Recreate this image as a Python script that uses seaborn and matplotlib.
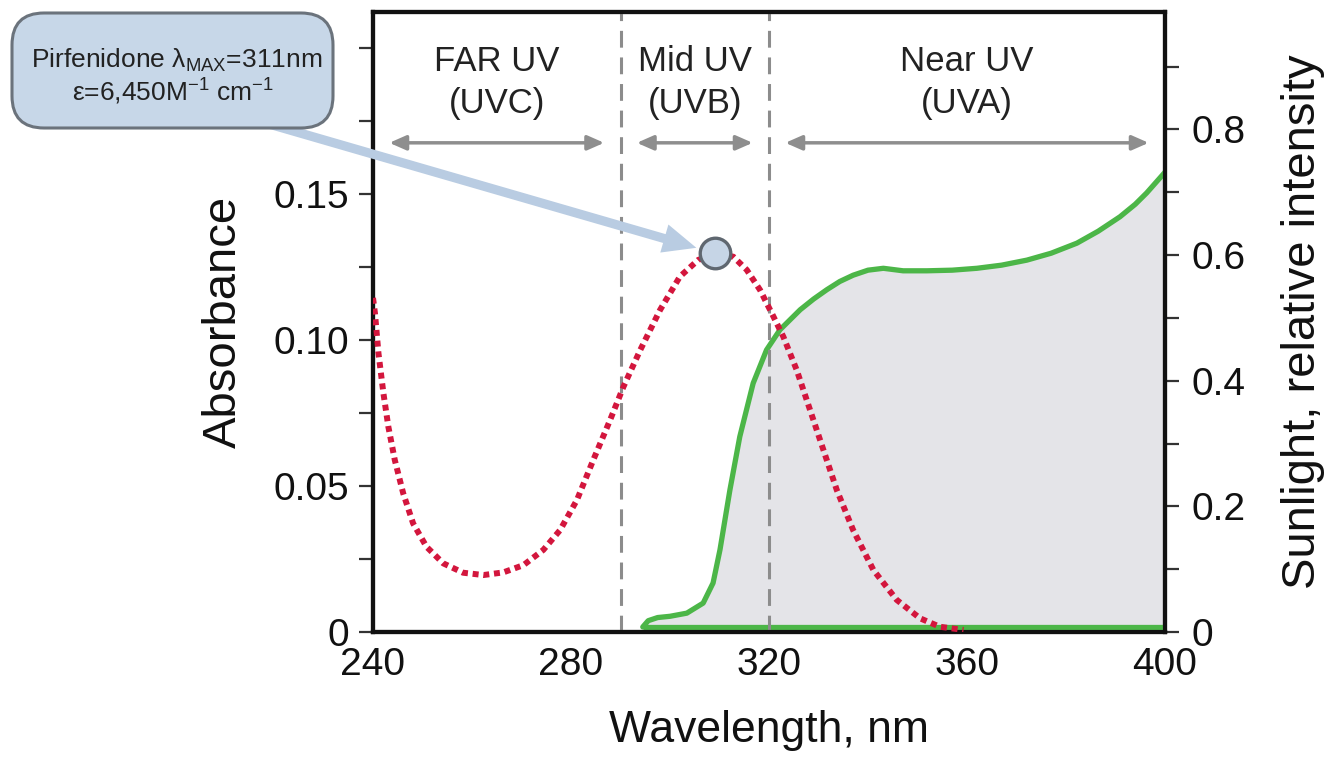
import matplotlib
matplotlib.use("Agg")
import matplotlib.pyplot as plt
from matplotlib.patches import FancyBboxPatch
from matplotlib.transforms import IdentityTransform
import seaborn as sns

# pirfenidone absorbance (left axis)
abs_nm = [240.0, 240.4, 241.1, 242.1, 243.1, 244.4, 246.1, 248.1, 250.8, 254.2,
          258.2, 262.3, 266.3, 270.4, 274.4, 277.8, 281.2, 284.5, 287.9, 290.6,
          294.0, 298.0, 302.0, 305.7, 309.1, 312.8, 315.5, 318.2, 320.9, 322.9,
          325.6, 328.3, 331.0, 333.7, 337.0, 341.1, 345.8, 350.5, 354.5, 359.3]
abs_val = [0.1144, 0.1091, 0.0955, 0.0818, 0.0703, 0.0589, 0.0475, 0.0372, 0.0292, 0.0235,
           0.0203, 0.0195, 0.0204, 0.0229, 0.0281, 0.0349, 0.0452, 0.0589, 0.0726, 0.0840,
           0.0966, 0.1103, 0.1217, 0.1274, 0.1297, 0.1285, 0.1240, 0.1171, 0.1080, 0.1011,
           0.0897, 0.0760, 0.0623, 0.0486, 0.0349, 0.0212, 0.0110, 0.0047, 0.0018, 0.0007]
peak_nm = 309.1
peak_abs = 0.1297

# sunlight spectrum (right axis)
sun_nm = [294.5, 295.6, 297.5, 300.0, 303.4, 306.7, 308.7, 310.1, 312.1, 314.1,
          316.8, 319.5, 322.2, 326.3, 329.0, 331.7, 334.3, 337.0, 340.0, 343.1,
          347.1, 351.9, 357.0, 362.0, 367.0, 372.1, 377.0, 382.2, 386.5, 390.9,
          394.0, 396.3, 400.0]
sun_val = [0.008, 0.018, 0.023, 0.025, 0.030, 0.046, 0.078, 0.131, 0.226, 0.311,
           0.396, 0.449, 0.481, 0.513, 0.530, 0.545, 0.558, 0.568, 0.576, 0.579,
           0.575, 0.575, 0.576, 0.579, 0.584, 0.592, 0.603, 0.619, 0.638, 0.661,
           0.681, 0.699, 0.732]

band_names = ["FAR UV", "Mid UV", "Near UV"]
band_codes = ["(UVC)", "(UVB)", "(UVA)"]
band_edges = [240, 290, 320, 400]

x_ticks = [240, 280, 320, 360, 400]
abs_ticks = [0, 0.05, 0.10, 0.15]
abs_tick_labels = ["0", "0.05", "0.10", "0.15"]
abs_minor = [0.025, 0.075, 0.125, 0.175, 0.2]
sun_ticks = [0, 0.2, 0.4, 0.6, 0.8]
sun_tick_labels = ["0", "0.2", "0.4", "0.6", "0.8"]
sun_minor = [0.1, 0.3, 0.5, 0.7, 0.9]

red = "#d3163d"
green = "#4cb648"
grey_fill = "#e4e4e8"
dash_grey = "#8c8c8c"

sns.set_style("ticks")
plt.rcParams["font.family"] = ["Liberation Sans", "DejaVu Sans"]
plt.rcParams["mathtext.fontset"] = "custom"
plt.rcParams["mathtext.rm"] = "Liberation Sans"

fig = plt.figure(figsize=(13.31, 7.61), dpi=100)
ax = fig.add_axes([373 / 1331, 1 - 632 / 761, 792 / 1331, 620 / 761])
ax2 = ax.twinx()
ax.set_zorder(ax2.get_zorder() + 1)
ax.patch.set_visible(False)

# sunlight: grey area with green outline
ax2.fill_between(sun_nm, sun_val, 0, color=grey_fill, lw=0, zorder=1)
sns.lineplot(x=sun_nm, y=sun_val, ax=ax2, color=green, lw=3.8, zorder=3)
ax2.hlines(sun_val[0], sun_nm[0], sun_nm[-1], color=green, lw=3.8, zorder=3)

# UV band boundaries
for e in band_edges[1:3]:
    ax.axvline(e, color=dash_grey, lw=2.2, dashes=(5.5, 3.2), zorder=2)

# absorbance, dotted red
sns.lineplot(x=abs_nm, y=abs_val, ax=ax, color=red, lw=4.3,
             linestyle=(0, (1.0, 0.8)), zorder=4)
ax.plot([peak_nm], [peak_abs], "o", ms=22, mfc="#c6d5e6", mec="#5f6770",
        mew=2.4, zorder=6)

# band labels and double arrows
xt = ax.get_xaxis_transform()
inset = 3.3
for i in range(3):
    lo, hi = band_edges[i], band_edges[i + 1]
    mid = (lo + hi) / 2
    ax.text(mid, 0.905, band_names[i], transform=xt, ha="center", va="baseline",
            fontsize=25, color="#222222")
    ax.text(mid, 0.837, band_codes[i], transform=xt, ha="center", va="baseline",
            fontsize=25, color="#222222")
    ax.annotate("", xy=(hi - inset, 0.789), xytext=(lo + inset, 0.789),
                xycoords=xt, textcoords=xt,
                arrowprops=dict(arrowstyle="<|-|>,head_length=0.5,head_width=0.22",
                                color="#8e8e8e", lw=2.5, mutation_scale=20,
                                shrinkA=0, shrinkB=0))

# callout arrow to the absorbance maximum
ax.annotate("", xy=(peak_nm, peak_abs), xycoords="data",
            xytext=(262, 761 - 122), textcoords="figure pixels",
            arrowprops=dict(arrowstyle="simple,head_length=1.2,head_width=1.05,tail_width=0.33",
                            fc="#b9cce2", ec="none", mutation_scale=20,
                            shrinkA=0, shrinkB=14),
            annotation_clip=False, zorder=5)

box = FancyBboxPatch((12, 761 - 128), 321, 115, boxstyle="round,pad=0,rounding_size=32",
                     transform=IdentityTransform(), fc="#c7d7e8", ec="#6b737c",
                     lw=2.2, zorder=4)
fig.add_artist(box)
fig.text(177 / 1331, 1 - 67 / 761, r"Pirfenidone λ$_{\mathregular{MAX}}$=311nm",
         ha="center", va="baseline", fontsize=19, color="#222222", zorder=6)
fig.text(173 / 1331, 1 - 100 / 761,
         r"ε=6,450M$^{\mathregular{-1}}$ cm$^{\mathregular{-1}}$",
         ha="center", va="baseline", fontsize=19, color="#222222", zorder=6)

# axes, ticks, labels
ax.set_xlim(240, 400)
ax.set_ylim(0, 0.2123)
ax2.set_ylim(0, 0.987)
ax.set_xticks(x_ticks)
ax.set_yticks(abs_ticks, labels=abs_tick_labels)
ax.set_yticks(abs_minor, minor=True)
ax2.set_yticks(sun_ticks, labels=sun_tick_labels)
ax2.set_yticks(sun_minor, minor=True)

ax.tick_params(axis="x", length=0, pad=11, labelsize=28, labelcolor="#111111")
ax.tick_params(axis="y", which="both", direction="out", length=10, width=1.6,
               color="#333333", pad=7, labelsize=28, labelcolor="#111111")
ax2.tick_params(axis="y", which="both", direction="out", length=10, width=1.6,
                color="#333333", pad=9, labelsize=28, labelcolor="#111111")

for a in (ax, ax2):
    for s in a.spines.values():
        s.set_visible(True)
        s.set_linewidth(3)
        s.set_color("#111111")

ax.set_xlabel("Wavelength, nm", fontsize=32, color="#111111")
ax.xaxis.set_label_coords(0.5, -0.126)
ax.set_ylabel("Absorbance", fontsize=34, color="#111111")
ax.yaxis.set_label_coords(-0.16, 0.5)
ax2.set_ylabel("Sunlight, relative intensity", fontsize=34, color="#111111")
ax2.yaxis.set_label_coords(1.147, 0.5)

fig.savefig("out.png", dpi=100)
